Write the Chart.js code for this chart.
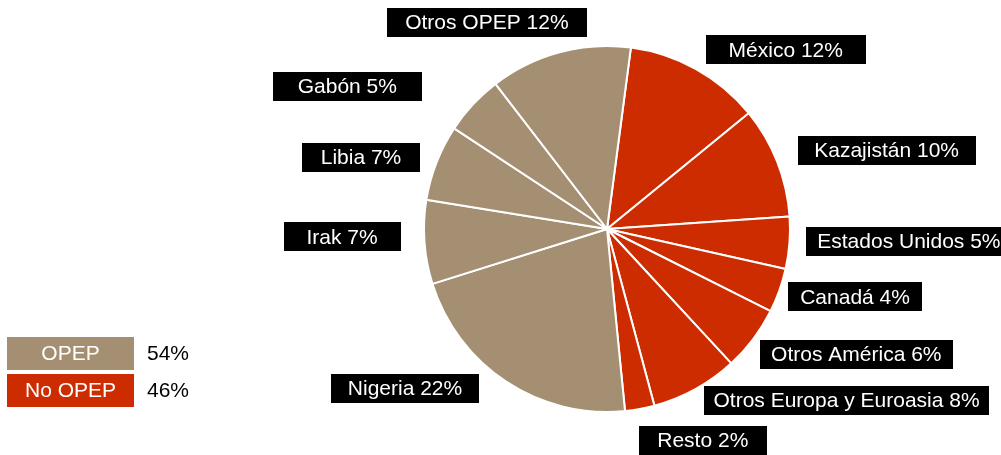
<!DOCTYPE html>
<html>
<head>
<meta charset="utf-8">
<script src="https://cdn.jsdelivr.net/npm/chart.js@4"></script>
<style>
  html, body { margin: 0; padding: 0; background: #fff; overflow: hidden; }
  #wrap { position: relative; width: 1001px; height: 455px; }
</style>
</head>
<body>
<div id="wrap"><canvas id="pieChart"></canvas></div>
<script>
// data (share of total, %)
const categories = ["México", "Kazajistán", "Estados Unidos", "Canadá", "Otros América",
  "Otros Europa y Euroasia", "Resto", "Nigeria", "Irak", "Libia", "Gabón", "Otros OPEP"];
const shares = [12.0, 9.8, 4.6, 3.9, 5.7, 7.7, 2.6, 21.7, 7.4, 6.7, 5.3, 12.5];
const pctLabels = [12, 10, 5, 4, 6, 8, 2, 22, 7, 7, 5, 12];
const groups = ["No OPEP", "No OPEP", "No OPEP", "No OPEP", "No OPEP", "No OPEP", "No OPEP",
  "OPEP", "OPEP", "OPEP", "OPEP", "OPEP"];
const groupNames = ["OPEP", "No OPEP"];

const TAN = "#a58f73";
const RED = "#cd2c00";
const groupColor = { "OPEP": TAN, "No OPEP": RED };
const FONT = "21px 'Liberation Sans', Arial, sans-serif";

// label box tweaks: [dx, dy, width]
const labelTweak = [
  [-1, 0, 160], [0, -3, 178], [-5, -3, 205], [-12, -1, 134], [-11, 2, 193],
  [-2, -8, 285], [-5, 10, 128], [-15, -12, 148], [-2, -7, 117], [4, 3, 118],
  [-35, -3, 149], [33, -9, 200]
];

const labelPlugin = {
  id: "boxLabels",
  afterDraw(chart) {
    const ctx = chart.ctx;
    const arcs = chart.getDatasetMeta(0).data;
    ctx.save();
    ctx.font = FONT;
    ctx.textBaseline = "middle";
    ctx.textAlign = "center";
    arcs.forEach((arc, i) => {
      const p = arc.getProps(["x", "y", "startAngle", "endAngle", "outerRadius"], true);
      const mid = (p.startAngle + p.endAngle) / 2;
      const r = p.outerRadius + 22;
      const ax = p.x + Math.cos(mid) * r;
      const ay = p.y + Math.sin(mid) * r;
      const [dx, dy, w] = labelTweak[i];
      const h = 29;
      const right = Math.cos(mid) >= 0;
      const left = right ? ax + dx : ax + dx - w;
      const cy = ay + dy;
      ctx.fillStyle = "#000";
      ctx.fillRect(Math.round(left), Math.round(cy - h / 2), w, h);
      ctx.fillStyle = "#fff";
      ctx.fillText(categories[i] + " " + pctLabels[i] + "%", left + w / 2, cy + 1);
    });

    // legend boxes
    groupNames.forEach((g, k) => {
      const total = shares.reduce((s, v, i) => groups[i] === g ? s + v : s, 0);
      const top = 337 + k * 37;
      ctx.fillStyle = groupColor[g];
      ctx.fillRect(7, top, 127, 33);
      ctx.fillStyle = "#fff";
      ctx.textAlign = "center";
      ctx.fillText(g, 7 + 127 / 2, top + 17);
      ctx.fillStyle = "#000";
      ctx.textAlign = "left";
      ctx.fillText(Math.round(total) + "%", 147, top + 17);
    });
    ctx.restore();
  }
};

new Chart(document.getElementById("pieChart"), {
  type: "pie",
  data: {
    labels: categories,
    datasets: [{
      data: shares,
      backgroundColor: groups.map(g => groupColor[g]),
      borderColor: "#fff",
      borderWidth: 2
    }]
  },
  options: {
    responsive: true,
    maintainAspectRatio: false,
    animation: false,
    rotation: 7.5,
    layout: { padding: { left: 423, right: 210, top: 45, bottom: 42 } },
    plugins: { legend: { display: false }, tooltip: { enabled: false } }
  },
  plugins: [labelPlugin]
});
</script>
</body>
</html>
